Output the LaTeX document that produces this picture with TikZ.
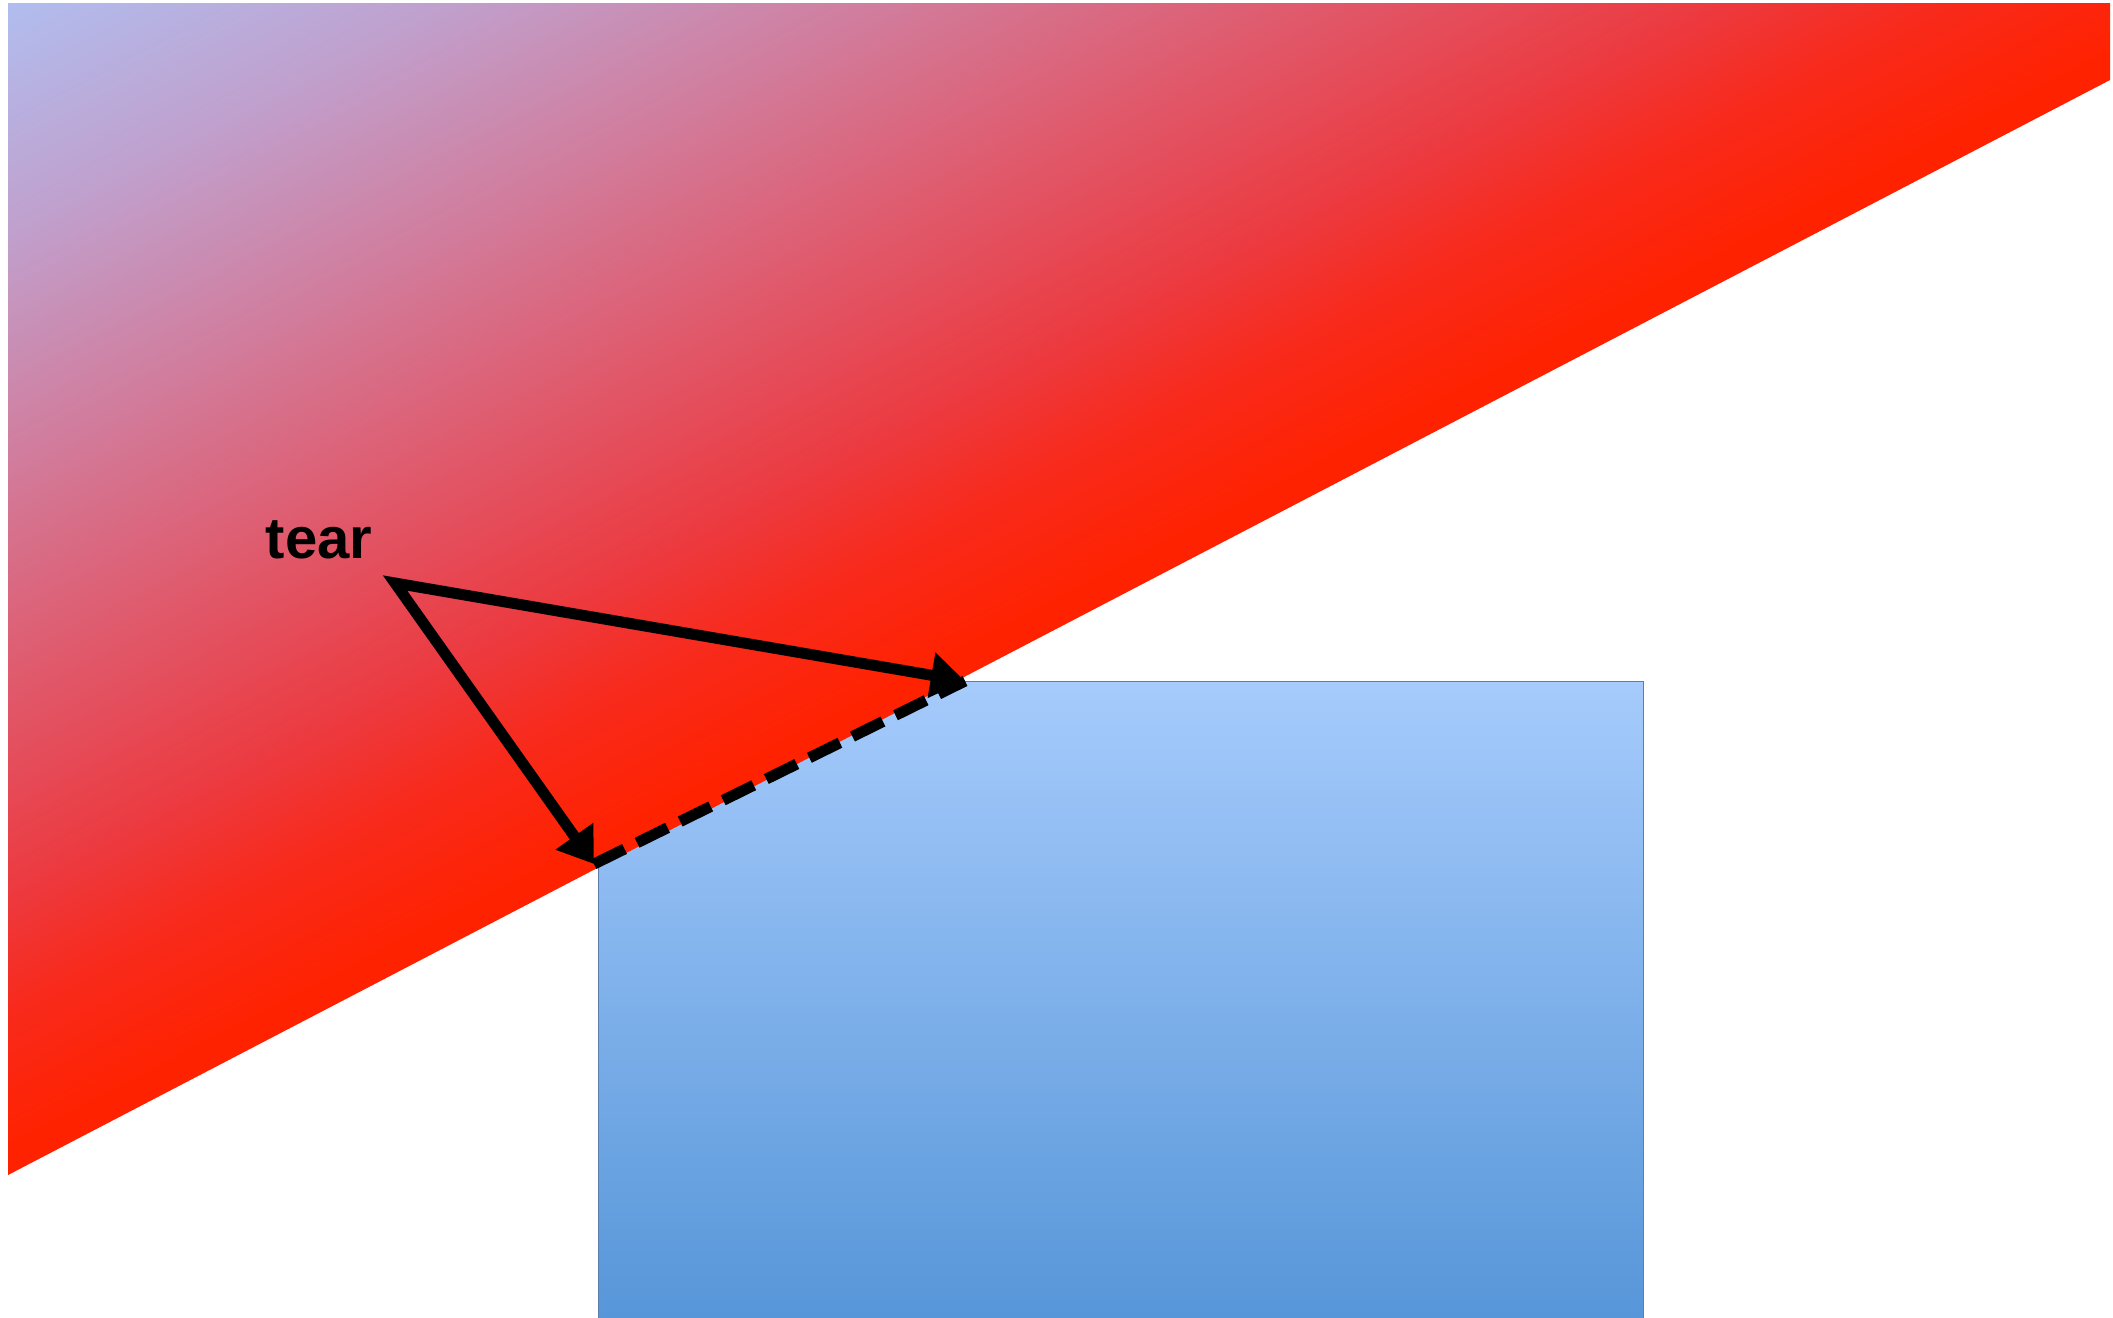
\documentclass[tikz,border=0pt]{standalone}
\usepackage{fontspec}
\setmainfont{Liberation Sans}
\usetikzlibrary{arrows.meta}

\definecolor{redA}{RGB}{255,34,0}
\definecolor{redB}{RGB}{248,42,28}
\definecolor{redC}{RGB}{236,58,64}
\definecolor{pinkD}{RGB}{222,94,114}
\definecolor{pinkE}{RGB}{208,127,160}
\definecolor{lilacF}{RGB}{192,160,205}
\definecolor{blueG}{RGB}{176,190,240}
\definecolor{blockTop}{RGB}{166,203,252}
\definecolor{blockBot}{RGB}{85,149,216}
\definecolor{blockEdge}{RGB}{95,125,170}

\pgfdeclareverticalshading{tearfade}{100bp}{color(0bp)=(redA); color(26bp)=(redA);
  color(32bp)=(redB); color(37bp)=(redC); color(47bp)=(pinkD); color(56bp)=(pinkE);
  color(65bp)=(lilacF); color(75bp)=(blueG); color(100bp)=(blueG)}

\begin{document}
\begin{tikzpicture}[x=0.01cm, y=-0.01cm, every node/.style={font=\fontsize{16.5}{20}\selectfont\bfseries},
  vec/.style={line width=0.11cm, {Triangle[length=0.34cm, width=0.44cm]}-{Triangle[length=0.34cm, width=0.44cm]}},
  cut/.style={line width=0.11cm, dash pattern=on 0.34cm off 0.14cm}]
  \useasboundingbox (0,0) rectangle (2113,1317);
  % blue block
  \shade[top color=blockTop, bottom color=blockBot, draw=blockEdge, line width=0.01cm] (598,681) rectangle (1643,1330);
  % red wedge, shaded across its long edge
  \begin{scope}
    \clip (8,3) -- (2110,3) -- (2110,80) -- (8,1175) -- cycle;
    \begin{scope}[transform canvas={rotate around={27.51:(8,1175)}}]
      \shade[shading=tearfade] (-1600,1175) rectangle (3200,130);
    \end{scope}
  \end{scope}
  \node (tear) at (319,540) {tear};
  \coordinate (a) at (395,583);
  \coordinate (c1) at (965,681);
  \coordinate (c2) at (594,864);
  \draw[vec] (c1) -- (a) -- (c2); \draw[cut] (c2) -- (c1);
\end{tikzpicture}
\end{document}
